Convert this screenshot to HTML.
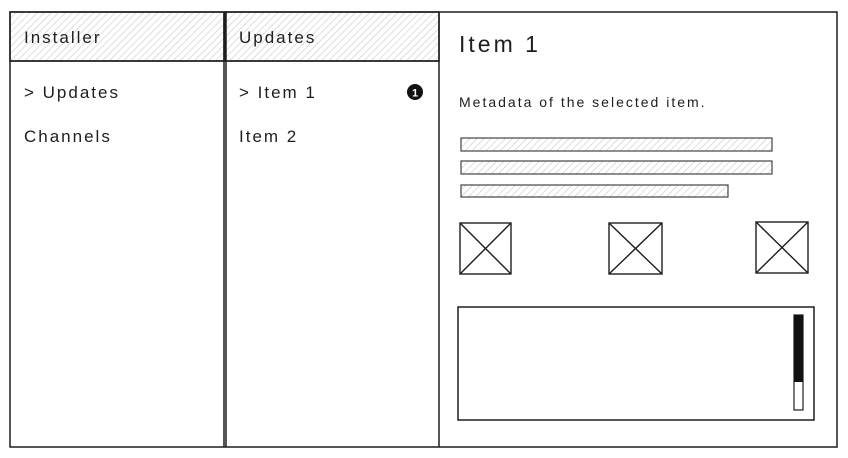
<!DOCTYPE html>
<html><head><meta charset="utf-8"><style>
html,body{margin:0;padding:0;background:#fff;width:848px;height:458px;overflow:hidden}
text{font-family:"Liberation Sans",sans-serif;fill:#1e1e1e}
</style></head><body>
<svg width="848" height="458" viewBox="0 0 848 458" xmlns="http://www.w3.org/2000/svg">
<defs>
<pattern id="h" width="5" height="5" patternUnits="userSpaceOnUse" patternTransform="rotate(45)">
<rect width="5" height="5" fill="#fff"/><line x1="0" y1="0" x2="0" y2="5" stroke="#c8c8c8" stroke-width="1.2"/>
</pattern>
</defs>
<g stroke="#1e1e1e" stroke-width="1.5" fill="none">
<rect x="10" y="12" width="214" height="49" fill="url(#h)"/>
<rect x="225" y="12" width="214" height="49" fill="url(#h)"/>
<rect x="10" y="12" width="827" height="435"/>
<line x1="224" y1="12" x2="224" y2="447"/>
<line x1="226" y1="12" x2="226" y2="447"/>
<line x1="439" y1="12" x2="439" y2="447"/>
<line x1="10" y1="61" x2="439" y2="61"/>
<rect x="461" y="138" width="311" height="13" fill="url(#h)" stroke-width="1.2" stroke="#444"/>
<rect x="461" y="161" width="311" height="13" fill="url(#h)" stroke-width="1.2" stroke="#444"/>
<rect x="461" y="185" width="267" height="12" fill="url(#h)" stroke-width="1.2" stroke="#444"/>
<g stroke-width="1.4">
<rect x="460" y="223" width="51" height="51"/><line x1="460" y1="223" x2="511" y2="274"/><line x1="511" y1="223" x2="460" y2="274"/>
<rect x="609" y="223" width="53" height="51"/><line x1="609" y1="223" x2="662" y2="274"/><line x1="662" y1="223" x2="609" y2="274"/>
<rect x="756" y="222" width="52" height="51"/><line x1="756" y1="222" x2="808" y2="273"/><line x1="808" y1="222" x2="756" y2="273"/>
</g>
<rect x="458" y="307" width="356" height="113"/>
<rect x="794" y="315" width="9" height="95" stroke-width="1.2"/>
</g>
<rect x="794" y="315" width="9" height="67" fill="#111"/>
<circle cx="415" cy="92" r="8" fill="#111"/>
<text x="415" y="96.5" font-size="11" font-weight="bold" text-anchor="middle" style="fill:#fff">1</text>
<g font-size="17" letter-spacing="2">
<text x="24" y="43">Installer</text>
<text x="239" y="43">Updates</text>
<text x="24" y="98">&gt; Updates</text>
<text x="24" y="142">Channels</text>
<text x="239" y="98">&gt; Item 1</text>
<text x="239" y="142">Item 2</text>
</g>
<text x="459" y="52" font-size="23" letter-spacing="3">Item 1</text>
<text x="459" y="107" font-size="14" letter-spacing="2">Metadata of the selected item.</text>
</svg>
</body></html>
